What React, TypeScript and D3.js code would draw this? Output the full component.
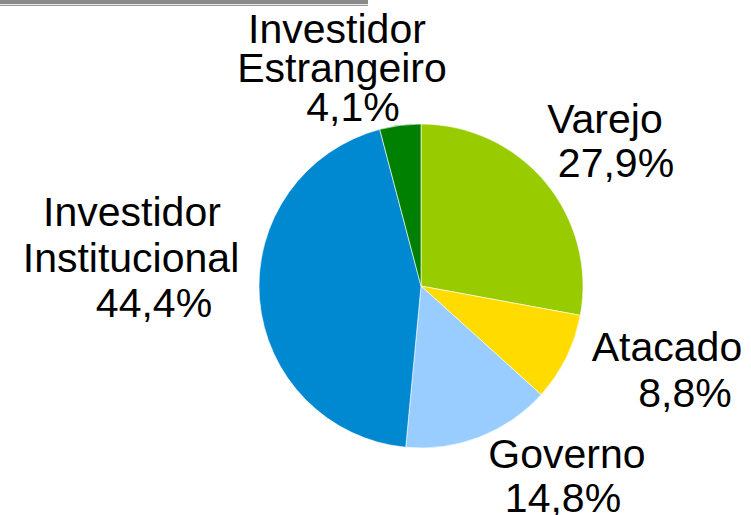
import React, { useEffect, useRef } from "react";
import * as d3 from "d3";

const categories = ["Varejo", "Atacado", "Governo", "Investidor Institucional", "Investidor Estrangeiro"];
const values = [27.9, 8.8, 14.8, 44.4, 4.1];
const colors = ["#99CC00", "#FFDB00", "#99CCFF", "#0088D0", "#008000"];
const labelLines = [
  ["Varejo", "27,9%"],
  ["Atacado", "8,8%"],
  ["Governo", "14,8%"],
  ["Investidor", "Institucional", "44,4%"],
  ["Investidor", "Estrangeiro", "4,1%"],
];

// label layout: first baseline y, line spacing, per-line center x
const labelLayout = [
  { y: 133, dy: 44, xs: [605, 616] },
  { y: 361, dy: 46, xs: [667, 685] },
  { y: 468, dy: 44, xs: [567, 563] },
  { y: 226, dy: 45.5, xs: [132, 131, 154] },
  { y: 43, dy: 39, xs: [337, 342, 353] },
];

const W = 751;
const H = 515;
const CX = 421;
const CY = 286;
const R = 162;

export default function App() {
  const ref = useRef<SVGSVGElement>(null);
  useEffect(() => {
    const svg = d3.select(ref.current);
    svg.selectAll("*").remove();

    svg.append("rect").attr("x", 0).attr("y", 0).attr("width", 368).attr("height", 4).attr("fill", "#8a8a8a");
    svg.append("rect").attr("x", 0).attr("y", 4.8).attr("width", 368).attr("height", 1.2).attr("fill", "#9a9a9a");

    const pie = d3.pie<number>().sort(null).value((d) => d);
    const arcs = pie(values);
    const arc = d3.arc<d3.PieArcDatum<number>>().innerRadius(0).outerRadius(R);

    const g = svg.append("g").attr("transform", `translate(${CX},${CY})`);
    g.selectAll("path")
      .data(arcs)
      .enter()
      .append("path")
      .attr("d", arc)
      .attr("fill", (_, i) => colors[i])
      .attr("stroke", "#ffffff")
      .attr("stroke-width", 0.6)
      .append("title")
      .text((_, i) => categories[i]);

    labelLines.forEach((lines, i) => {
      const lay = labelLayout[i];
      lines.forEach((t, j) => {
        svg
          .append("text")
          .attr("x", lay.xs[j])
          .attr("y", lay.y + j * lay.dy)
          .attr("text-anchor", "middle")
          .attr("font-family", "Liberation Sans, Arial, sans-serif")
          .attr("font-size", 41)
          .attr("fill", "#000")
          .text(t);
      });
    });
  }, []);

  return (
    <div style={{ position: "fixed", left: 0, top: 0, width: W, height: H, background: "#fff" }}>
      <svg ref={ref} width={W} height={H} />
    </div>
  );
}
